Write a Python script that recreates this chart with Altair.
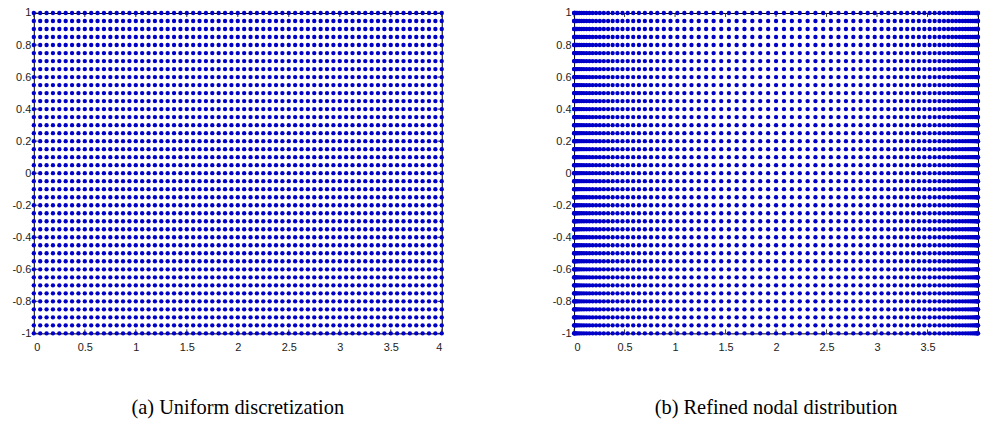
import altair as alt
import pandas as pd

# Row positions (y) shared by both node sets
Y_ROWS = [-1.0, -0.95, -0.9, -0.85, -0.8, -0.75, -0.7, -0.65, -0.6, -0.55,
          -0.5, -0.45, -0.4, -0.35, -0.3, -0.25, -0.2, -0.15, -0.1, -0.05,
          0.0, 0.05, 0.1, 0.15, 0.2, 0.25, 0.3, 0.35, 0.4, 0.45,
          0.5, 0.55, 0.6, 0.65, 0.7, 0.75, 0.8, 0.85, 0.9, 0.95, 1.0]

# (a) uniform column positions
X_UNIFORM = [0.0, 0.0625, 0.125, 0.1875, 0.25, 0.3125, 0.375, 0.4375, 0.5, 0.5625,
             0.625, 0.6875, 0.75, 0.8125, 0.875, 0.9375, 1.0, 1.0625, 1.125, 1.1875,
             1.25, 1.3125, 1.375, 1.4375, 1.5, 1.5625, 1.625, 1.6875, 1.75, 1.8125,
             1.875, 1.9375, 2.0, 2.0625, 2.125, 2.1875, 2.25, 2.3125, 2.375, 2.4375,
             2.5, 2.5625, 2.625, 2.6875, 2.75, 2.8125, 2.875, 2.9375, 3.0, 3.0625,
             3.125, 3.1875, 3.25, 3.3125, 3.375, 3.4375, 3.5, 3.5625, 3.625, 3.6875,
             3.75, 3.8125, 3.875, 3.9375, 4.0]

# (b) refined column positions (clustered toward both ends)
X_REFINED = [0.0, 0.00154, 0.00617, 0.01386, 0.02462, 0.03843, 0.05526, 0.07509,
             0.09789, 0.12362, 0.15224, 0.18371, 0.21799, 0.25501, 0.29472, 0.33706,
             0.38197, 0.42937, 0.47919, 0.53135, 0.58579, 0.64240, 0.70110, 0.76181,
             0.82443, 0.88886, 0.95500, 1.02276, 1.09202, 1.16268, 1.23463, 1.30777,
             1.38197, 1.45712, 1.53311, 1.60982, 1.68713, 1.76493, 1.84308, 1.92148,
             2.0, 2.07852, 2.15692, 2.23507, 2.31287, 2.39018, 2.46689, 2.54288,
             2.61803, 2.69223, 2.76537, 2.83732, 2.90798, 2.97724, 3.04500, 3.11114,
             3.17557, 3.23819, 3.29890, 3.35760, 3.41421, 3.46865, 3.52081, 3.57063,
             3.61803, 3.66294, 3.70528, 3.74499, 3.78201, 3.81629, 3.84776, 3.87638,
             3.90211, 3.92491, 3.94474, 3.96157, 3.97538, 3.98614, 3.99383, 3.99846, 4.0]

X_TICKS = [0, 0.5, 1, 1.5, 2, 2.5, 3, 3.5, 4]
X_LABELS_A = [0, 0.5, 1, 1.5, 2, 2.5, 3, 3.5, 4]
X_LABELS_B = [0, 0.5, 1, 1.5, 2, 2.5, 3, 3.5]
Y_TICKS = [-1, -0.8, -0.6, -0.4, -0.2, 0, 0.2, 0.4, 0.6, 0.8, 1]

CAPTION_A = "(a) Uniform discretization"
CAPTION_B = "(b) Refined nodal distribution"

H = 322
TICK_LEN = 4


def panel(xs, labels, caption, width):
    df = pd.DataFrame([(x, y) for y in Y_ROWS for x in xs], columns=["x", "y"])
    xscale = alt.Scale(domain=[0, 4], nice=False, zero=False)
    yscale = alt.Scale(domain=[-1, 1], nice=False, zero=False)
    xaxis = alt.Axis(values=labels, title=None, grid=False, domain=False, ticks=False,
                     labelPadding=8, labelFont="Liberation Sans", labelFontSize=11,
                     labelColor="#222222", labelExpr="'' + datum.value")
    yaxis = alt.Axis(values=Y_TICKS, title=None, grid=False, domain=False, ticks=False,
                     labelPadding=3, labelFont="Liberation Sans", labelFontSize=11,
                     labelColor="#222222", labelExpr="'' + datum.value")

    pts = alt.Chart(df).mark_circle(size=19, color="#0000c8", opacity=1).encode(
        x=alt.X("x:Q", scale=xscale, axis=xaxis),
        y=alt.Y("y:Q", scale=yscale, axis=yaxis),
    )

    xt = pd.DataFrame({"x": X_TICKS})
    yt = pd.DataFrame({"y": Y_TICKS})
    bottom = alt.Chart(xt).mark_rule(color="#333333", strokeWidth=1).encode(
        x=alt.X("x:Q", scale=xscale, axis=xaxis), y=alt.value(H), y2=alt.value(H - TICK_LEN))
    top = alt.Chart(xt).mark_rule(color="#333333", strokeWidth=1).encode(
        x=alt.X("x:Q", scale=xscale, axis=xaxis), y=alt.value(0), y2=alt.value(TICK_LEN))
    left = alt.Chart(yt).mark_rule(color="#333333", strokeWidth=1).encode(
        y=alt.Y("y:Q", scale=yscale, axis=yaxis), x=alt.value(0), x2=alt.value(TICK_LEN))
    right = alt.Chart(yt).mark_rule(color="#333333", strokeWidth=1).encode(
        y=alt.Y("y:Q", scale=yscale, axis=yaxis), x=alt.value(width), x2=alt.value(width - TICK_LEN))

    return alt.layer(bottom, top, left, right, pts).properties(
        width=width, height=H,
        title=alt.TitleParams(caption, orient="bottom", anchor="middle", offset=46,
                              font="Liberation Serif", fontSize=20.5, fontWeight="normal",
                              color="black"),
    )


chart = alt.hconcat(
    panel(X_UNIFORM, X_LABELS_A, CAPTION_A, 410),
    panel(X_REFINED, X_LABELS_B, CAPTION_B, 406),
    spacing=107,
).configure(
    padding={"left": 11, "top": 5, "right": 0, "bottom": 0},
    background="white",
).configure_view(stroke="black", strokeWidth=1)

chart.save("out.html", embed_options={"renderer": "svg", "actions": False})
